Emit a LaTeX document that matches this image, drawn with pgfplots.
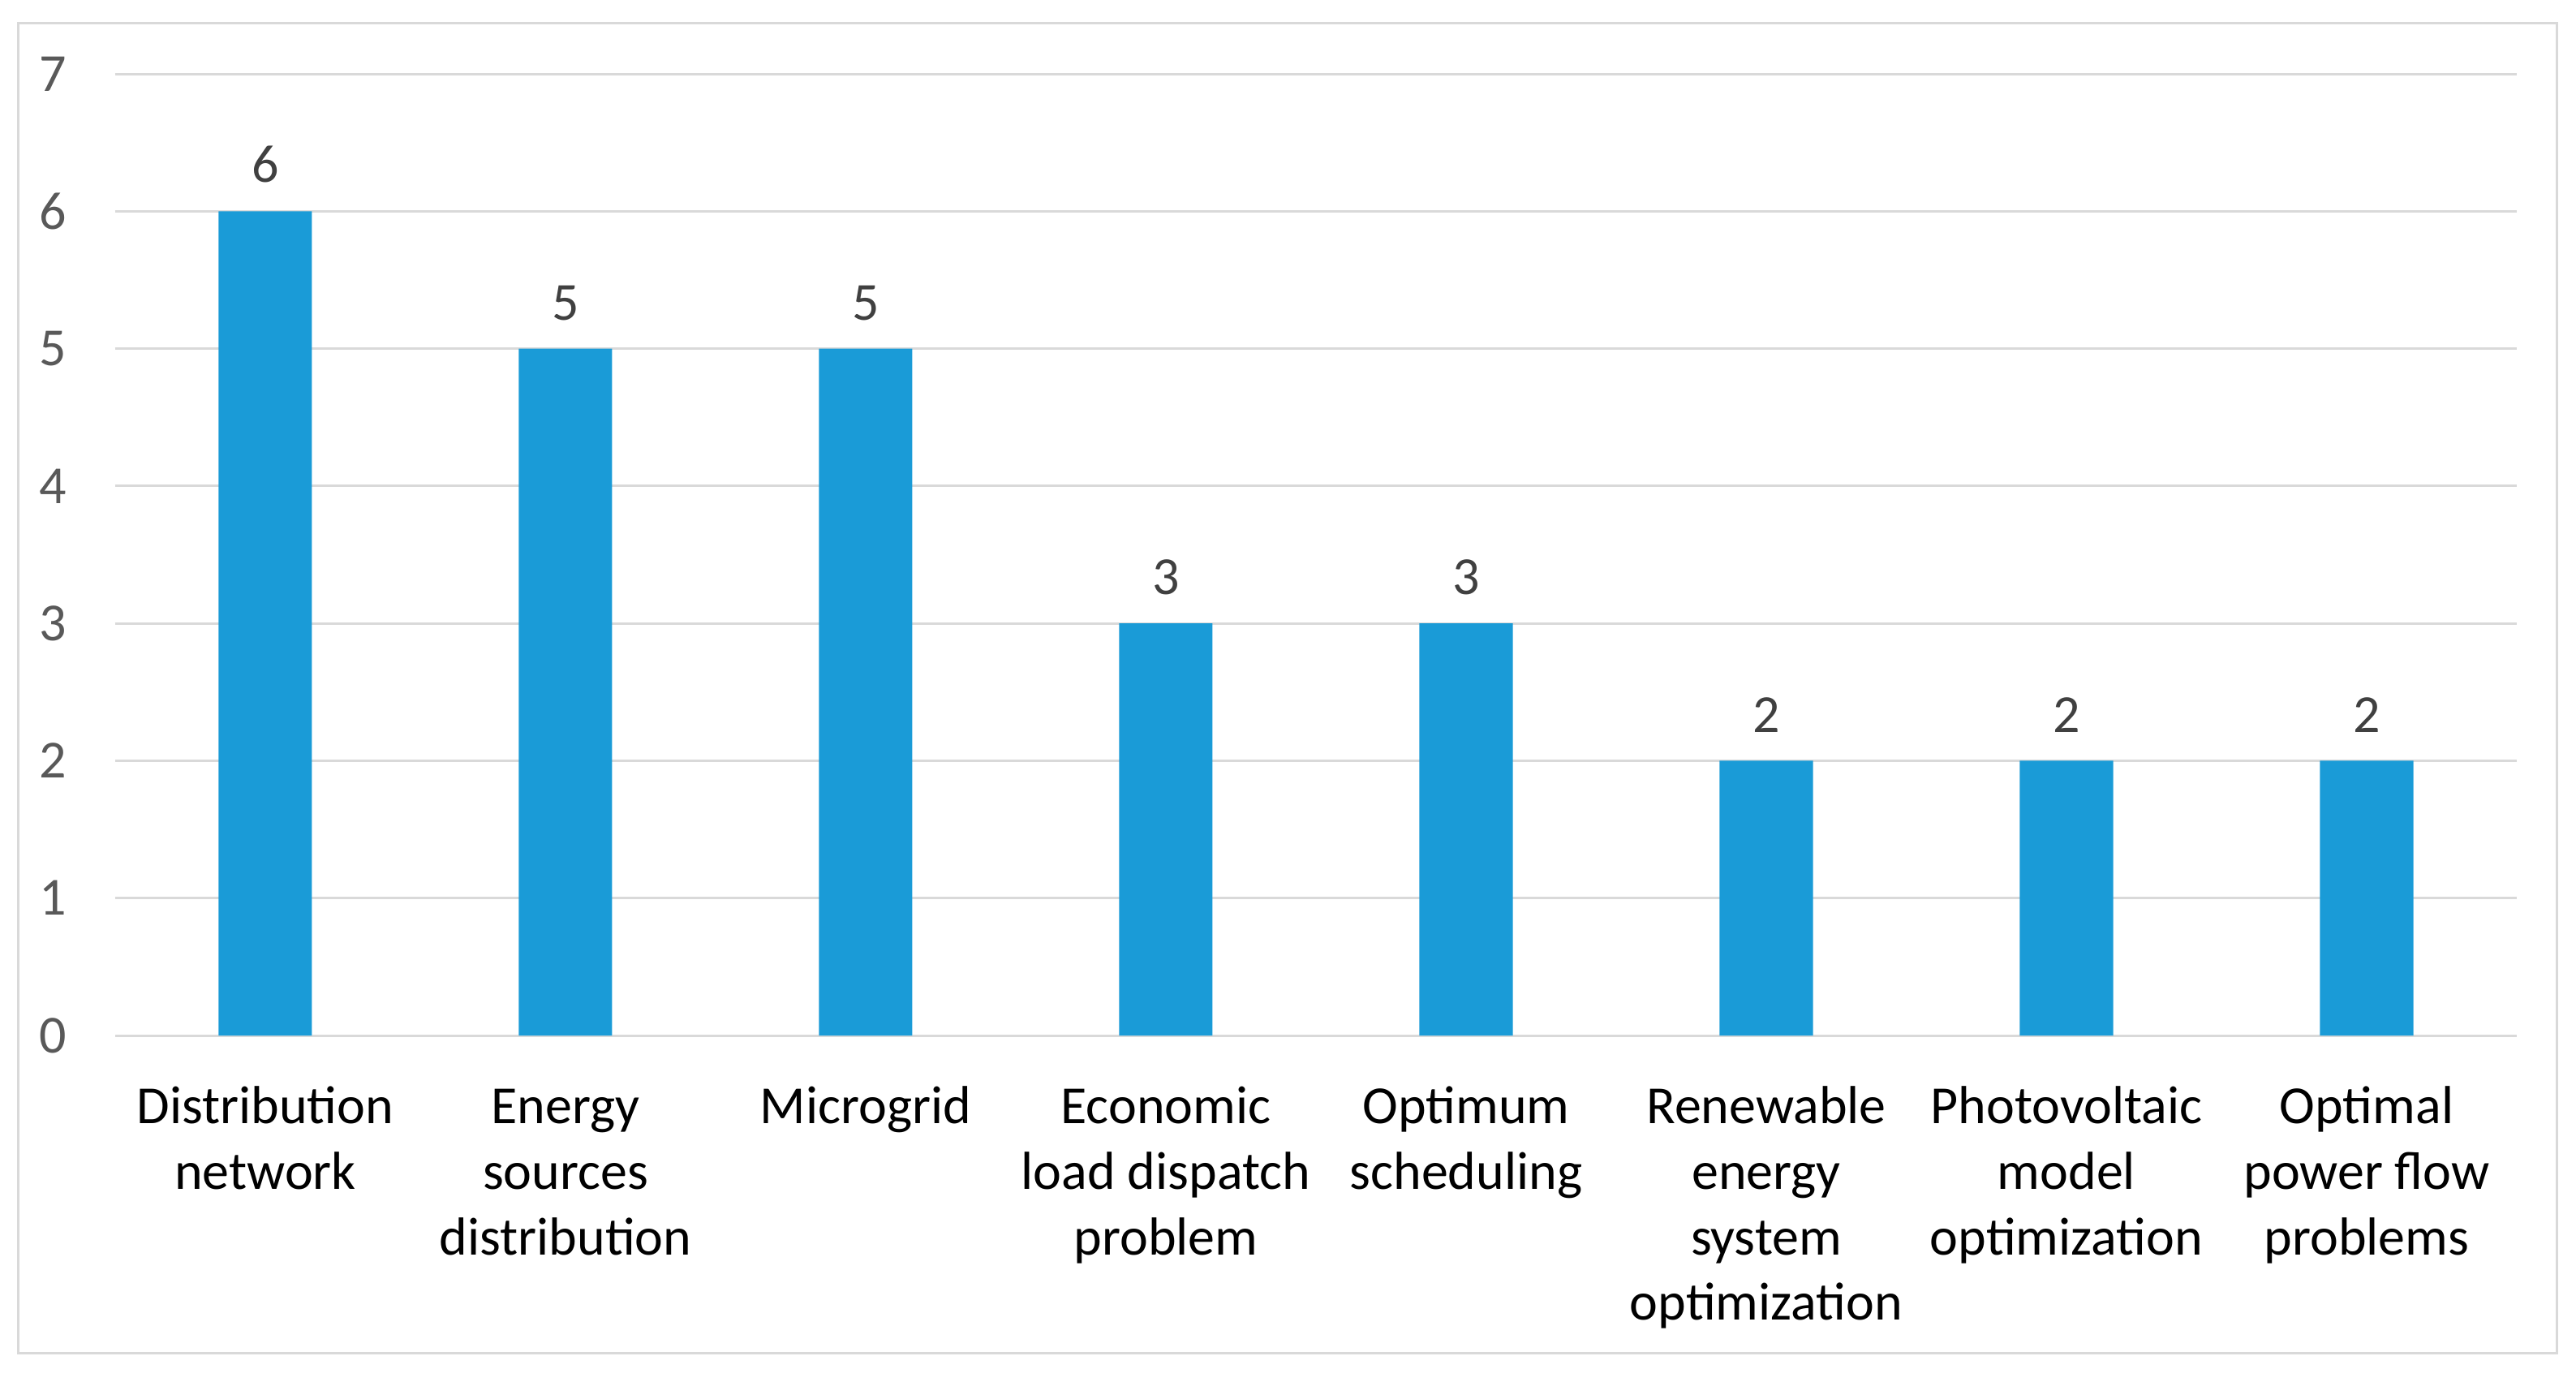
\documentclass[border=0pt]{standalone}
\usepackage{pgfplots}
\pgfplotsset{compat=1.18}
\usepackage{fontspec}
\setmainfont{Carlito}
\definecolor{barblue}{HTML}{1A9BD7}
\definecolor{gridgray}{HTML}{D9D9D9}
\definecolor{ticktext}{HTML}{595959}
\definecolor{labeltext}{HTML}{404040}
\begin{document}
\begin{tikzpicture}
\useasboundingbox (0pt,0pt) rectangle (476.25pt,255.3pt);
\draw[color=gridgray, line width=0.45pt] (3.3pt,5.25pt) rectangle (472.65pt,251.1pt);
\begin{axis}[
  at={(21.3pt,63.9pt)}, anchor=south west,
  scale only axis, width=444pt, height=177.75pt,
  xmin=-0.5, xmax=7.5, ymin=0, ymax=7,
  ytick={0,1,2,3,4,5,6,7},
  xtick={0,1,2,3,4,5,6,7},
  xticklabels={{Distribution\\network},{\vphantom{bd}Energy\\sources\\distribution},{Microgrid},{\vphantom{bd}Economic\\load dispatch\\problem},{\vphantom{bd}Optimum\\scheduling},{Renewable\\energy\\system\\optimization},{Photovoltaic\\model\\optimization},{Optimal\\power flow\\problems}},
  /pgf/number format/assume math mode=true,
  axis line style={draw=none},
  major tick length=0pt,
  ymajorgrids,
  grid style={color=gridgray, line width=0.45pt},
  yticklabel style={font=\fontsize{9.9}{12}\selectfont, text=ticktext, anchor=east, xshift=-5.4pt},
  xticklabel style={font=\fontsize{9.9}{12.1}\selectfont, text=black, align=center, anchor=north, yshift=-5.9pt},
  nodes near coords,
  every node near coord/.append style={font=\fontsize{9.9}{12}\selectfont, text=labeltext, yshift=1.7pt},
]
\addplot[ybar, bar width=17.25pt, fill=barblue, draw=none] coordinates {
  (0,6) (1,5) (2,5) (3,3) (4,3) (5,2) (6,2) (7,2)
};
\end{axis}
\end{tikzpicture}
\end{document}
